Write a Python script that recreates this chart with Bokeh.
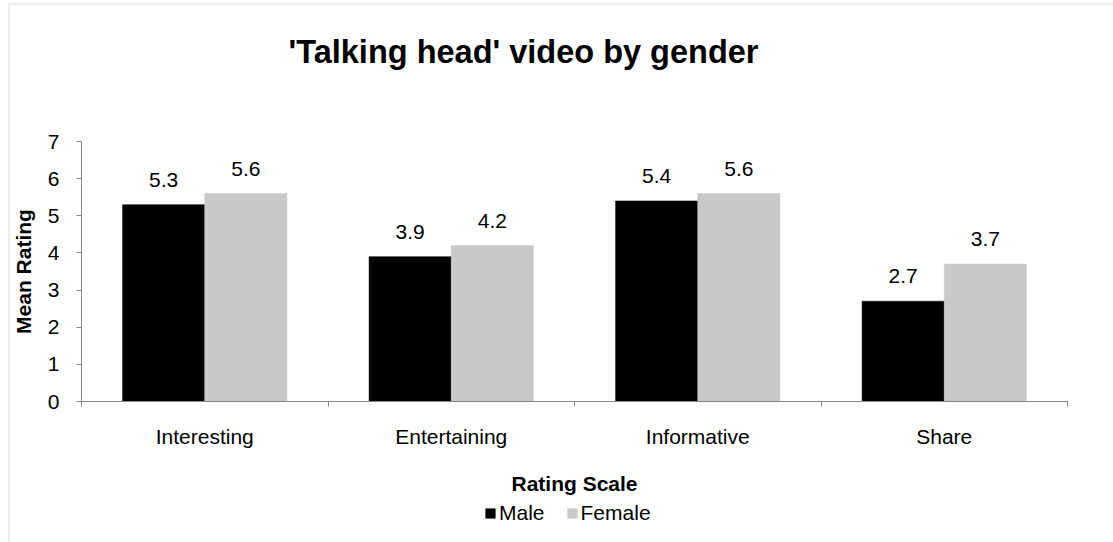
from bokeh.plotting import figure
from bokeh.models import (Range1d, FixedTicker, ColumnDataSource, LabelSet, Label,
                          Legend, LegendItem, BoxAnnotation)
from bokeh.core.properties import value
from bokeh.embed import file_html
from bokeh.resources import INLINE

# ---- data ----
title_text = "'Talking head' video by gender"
categories = ["Interesting", "Entertaining", "Informative", "Share"]
male = [5.3, 3.9, 5.4, 2.7]
female = [5.6, 4.2, 5.6, 3.7]
y_ticks = [0, 1, 2, 3, 4, 5, 6, 7]
series_names = ["Male", "Female"]
x_title = "Rating Scale"
y_title = "Mean Rating"

FONT = "Liberation Sans"
AXIS_COLOR = "#868686"
BORDER_COLOR = "#8c8c8c"
MALE_COLOR = "#000000"
FEMALE_COLOR = "#c9c9c9"

# ---- layout (pixels) ----
W, H = 1113, 542
PLOT_LEFT, PLOT_RIGHT = 81, 1067      # pixel columns of the category axis ends
PLOT_TOP, PLOT_BOTTOM = 141, 401      # pixel rows of value max / value 0
n = len(categories)
ymin, ymax = y_ticks[0], y_ticks[-1]
ppu = (PLOT_BOTTOM - PLOT_TOP) / (ymax - ymin)   # pixels per rating unit
fw = (PLOT_RIGHT - PLOT_LEFT) / n                # pixels per category

p = figure(width=W, height=H, output_backend="svg", toolbar_location=None,
           x_range=Range1d(-PLOT_LEFT / fw, n + (W - PLOT_RIGHT) / fw),
           y_range=Range1d(ymin - (H - PLOT_BOTTOM) / ppu, ymax + PLOT_TOP / ppu),
           min_border_left=0, min_border_right=0, min_border_top=0, min_border_bottom=0,
           title=None)
p.xgrid.visible = False
p.ygrid.visible = False
p.outline_line_color = None
p.background_fill_color = "white"
p.border_fill_color = "white"

# chart-area border: only its left and top edges fall inside the picture
px_x = lambda px: (px - PLOT_LEFT) / fw
px_y = lambda py: (PLOT_BOTTOM - py) / ppu
p.add_layout(BoxAnnotation(left=px_x(8.5), right=px_x(W + 20), top=px_y(3.5), bottom=px_y(H + 20),
                           fill_color=None, line_color=BORDER_COLOR, line_width=1))

centers = [i + 0.5 for i in range(n)]
bw = 1 / 3
src = ColumnDataSource(dict(
    xm=[c - bw / 2 for c in centers],
    xf=[c + bw / 2 for c in centers],
    male=male, female=female,
    ml=[f"{v:.1f}" for v in male],
    fl=[f"{v:.1f}" for v in female],
))

rm = p.vbar(x="xm", top="male", bottom=0, width=bw, source=src,
            fill_color=MALE_COLOR, line_color=MALE_COLOR, line_width=0.5)
rf = p.vbar(x="xf", top="female", bottom=0, width=bw, source=src,
            fill_color=FEMALE_COLOR, line_color=FEMALE_COLOR, line_width=0.5)

for xcol, ycol, tcol in (("xm", "male", "ml"), ("xf", "female", "fl")):
    p.add_layout(LabelSet(x=xcol, y=ycol, text=tcol, source=src,
                          text_align="center", text_baseline="alphabetic",
                          y_offset=18, text_font=value(FONT),
                          text_font_size=value("21px"), text_color="black"))

# x axis drawn at rating 0; labels at category centres, ticks at category boundaries
xa = p.xaxis[0]
xa.fixed_location = 0
xa.bounds = (0, n)
xa.ticker = FixedTicker(ticks=centers, minor_ticks=list(range(n + 1)))
xa.major_label_overrides = {c: cat for c, cat in zip(centers, categories)}
xa.major_tick_line_color = None
xa.major_tick_in = 0
xa.major_tick_out = 0
xa.minor_tick_in = 0
xa.minor_tick_out = 5
xa.minor_tick_line_color = AXIS_COLOR
xa.axis_line_color = AXIS_COLOR
xa.major_label_standoff = 18
xa.major_label_text_font = FONT
xa.major_label_text_font_size = "21px"
xa.major_label_text_color = "black"
xa.axis_label = x_title
xa.axis_label_standoff = 21
xa.axis_label_text_font = FONT
xa.axis_label_text_font_size = "21px"
xa.axis_label_text_font_style = "bold"
xa.axis_label_text_color = "black"

# y axis drawn at the first category boundary
ya = p.yaxis[0]
ya.fixed_location = 0
ya.bounds = (ymin, ymax)
ya.ticker = FixedTicker(ticks=y_ticks)
ya.minor_tick_line_color = None
ya.major_tick_in = 0
ya.major_tick_out = 5
ya.major_tick_line_color = AXIS_COLOR
ya.axis_line_color = AXIS_COLOR
ya.major_label_standoff = 17
ya.major_label_text_font = FONT
ya.major_label_text_font_size = "21px"
ya.major_label_text_color = "black"
ya.axis_label = y_title
ya.axis_label_standoff = 10
ya.axis_label_text_font = FONT
ya.axis_label_text_font_size = "21px"
ya.axis_label_text_font_style = "bold"
ya.axis_label_text_color = "black"

# legend below the axis title (screen offsets from the frame's bottom-left)
legend = Legend(items=[LegendItem(label=series_names[0], renderers=[rm]),
                       LegendItem(label=series_names[1], renderers=[rf])],
                orientation="horizontal", location=(484, H - 525),
                glyph_width=12, glyph_height=12, label_standoff=3, spacing=21,
                label_text_font=FONT, label_text_font_size="21px",
                label_text_color="black", border_line_color=None,
                background_fill_alpha=0, padding=0, margin=0)
p.add_layout(legend, "center")

# chart title
p.add_layout(Label(x=px_x(523), y=px_y(51), text=title_text,
                   text_align="center", text_baseline="alphabetic",
                   text_font=FONT, text_font_size="32.5px",
                   text_font_style="bold", text_color="black"))

open("out.html", "w").write(file_html(p, INLINE))
